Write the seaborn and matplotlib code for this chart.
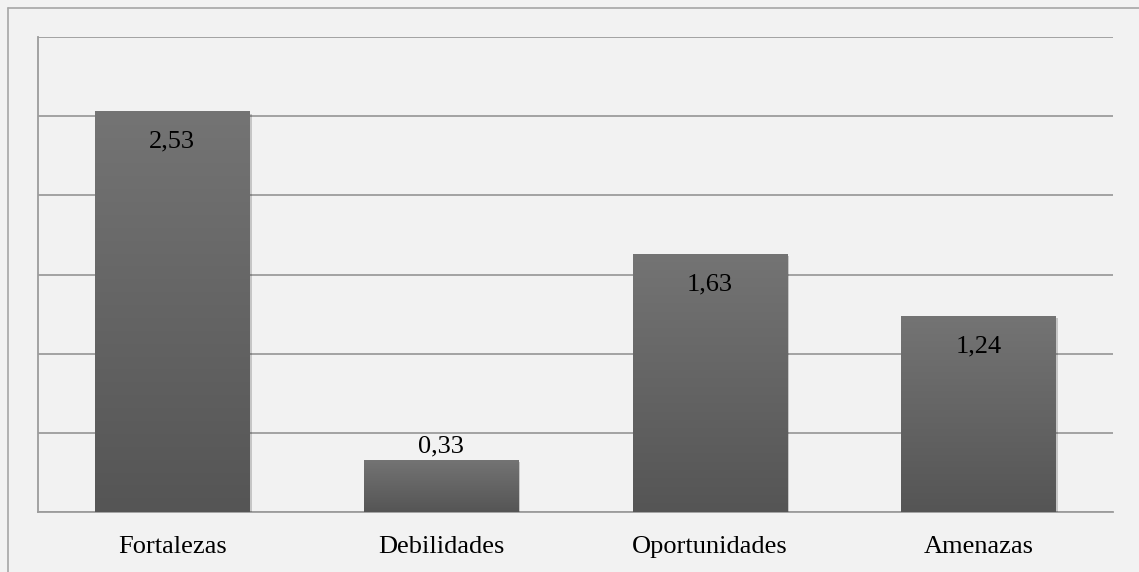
import numpy as np
import matplotlib
matplotlib.use("Agg")
import matplotlib.pyplot as plt
import seaborn as sns
import pandas as pd
from matplotlib.colors import LinearSegmentedColormap
from matplotlib import patheffects as pe

categories = ["Fortalezas", "Debilidades", "Oportunidades", "Amenazas"]
values = [2.53, 0.33, 1.63, 1.24]
y_ticks = [0, 0.5, 1.0, 1.5, 2.0, 2.5, 3.0]

sns.set_theme(style="white")
plt.rcParams['font.family'] = ['Liberation Serif', 'DejaVu Serif']

W, H = 1139, 572
fig = plt.figure(figsize=(W / 100, H / 100), dpi=100)
fig.patch.set_facecolor("#f2f2f2")
ax = fig.add_axes([38 / W, 1 - 512 / H, (1113 - 38) / W, (512 - 37) / H])
ax.set_facecolor("#f2f2f2")

# outer border of chart area
fig.add_artist(plt.Line2D([8 / W, 1.0], [1 - 8 / H, 1 - 8 / H], transform=fig.transFigure, color="#a6a6a6", lw=1.2))
fig.add_artist(plt.Line2D([8 / W, 8 / W], [0, 1 - 8 / H], transform=fig.transFigure, color="#a6a6a6", lw=1.2))

df = pd.DataFrame({"cat": categories, "val": values})
sns.barplot(data=df, x="cat", y="val", color="#666666", width=0.574, ax=ax, zorder=3,
            saturation=1, edgecolor="none", linewidth=0)

ax.set_ylim(0, 3.0)
ax.set_xlim(-0.5, len(categories) - 0.5)
ax.set_yticks(y_ticks)
ax.set_yticklabels([])
ax.tick_params(axis="y", length=0)
ax.tick_params(axis="x", length=0, labelsize=19, pad=17, colors="black")
ax.set_xlabel("")
ax.set_ylabel("")
ax.grid(axis="y", color="#9c9c9c", lw=1.3, zorder=0)
ax.set_axisbelow(True)
for s in ["top", "right"]:
    ax.spines[s].set_visible(False)
for s in ["left", "bottom"]:
    ax.spines[s].set_color("#9c9c9c")
    ax.spines[s].set_linewidth(1.3)

cmap = LinearSegmentedColormap.from_list("g", ["#555555", "#747474"])
grad = np.linspace(0, 1, 256).reshape(-1, 1)
for p in ax.patches:
    x0, y0 = p.get_x(), p.get_y()
    w, h = p.get_width(), p.get_height()
    p.set_edgecolor("none")
    p.set_path_effects([pe.SimplePatchShadow(offset=(1.5, -1.5), shadow_rgbFace="k", alpha=0.2), pe.Normal()])
    im = ax.imshow(grad, extent=[x0, x0 + w, y0, y0 + h], origin="lower", cmap=cmap,
                   aspect="auto", zorder=4, interpolation="bicubic")
    im.set_clip_path(p)

for i, v in enumerate(values):
    lab = f"{v:.2f}".replace(".", ",")
    if v > 0.6:
        ax.annotate(lab, (i, v), xytext=(0, -14), textcoords="offset points",
                    ha="center", va="top", fontsize=19, color="black", zorder=6)
    else:
        ax.annotate(lab, (i, v), xytext=(0, 2), textcoords="offset points",
                    ha="center", va="bottom", fontsize=19, color="black", zorder=6)

ax.set_xlim(-0.5, len(categories) - 0.5)
ax.set_ylim(0, 3.0)
fig.savefig("out.png", dpi=100, facecolor=fig.get_facecolor())
